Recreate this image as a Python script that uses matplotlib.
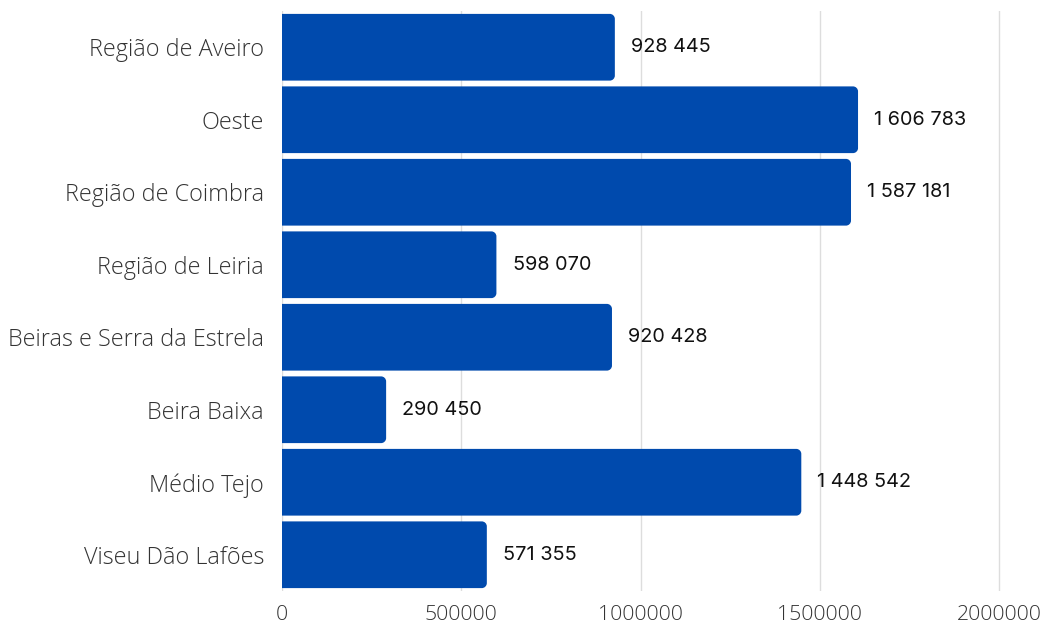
import matplotlib.pyplot as plt
from matplotlib.path import Path
from matplotlib.patches import PathPatch

# NUTS III da região Centro
regioes = ['Região de Aveiro', 'Oeste', 'Região de Coimbra', 'Região de Leiria',
           'Beiras e Serra da Estrela', 'Beira Baixa', 'Médio Tejo', 'Viseu Dão Lafões']
valores = [928445, 1606783, 1587181, 598070, 920428, 290450, 1448542, 571355]
ticks_x = [0, 500000, 1000000, 1500000, 2000000]

azul = '#004AAD'

fig = plt.figure(figsize=(10.47, 6.25), dpi=100)
ax = fig.add_axes([282 / 1047, 34 / 625, (1035 - 282) / 1047, 580 / 625])

xmax = 753 / 358.5 * 1e6
ax.set_xlim(0, xmax)
ax.set_ylim(len(regioes) - 0.5, -0.5)

altura = 0.92
rx = 5 * xmax / 753          # raio dos cantos em unidades de x (~5 px)
ry = 5 / 72.5                # idem em unidades de y


def barra(x, y0, h):
    # retângulo com os cantos da direita arredondados
    y1 = y0 + h
    k = 0.55
    verts = [(0, y0), (x - rx, y0),
             (x - rx + k * rx, y0), (x, y0 + ry - k * ry), (x, y0 + ry),
             (x, y1 - ry),
             (x, y1 - ry + k * ry), (x - rx + k * rx, y1), (x - rx, y1),
             (0, y1), (0, y0)]
    codes = [Path.MOVETO, Path.LINETO,
             Path.CURVE4, Path.CURVE4, Path.CURVE4,
             Path.LINETO,
             Path.CURVE4, Path.CURVE4, Path.CURVE4,
             Path.LINETO, Path.CLOSEPOLY]
    return PathPatch(Path(verts, codes), facecolor=azul, lw=0, zorder=2)


for i, v in enumerate(valores):
    ax.add_patch(barra(v, i - altura / 2, altura))
    rot = f'{v:,}'.replace(',', ' ')
    ax.text(v + 45000, i, rot, va='center', ha='left', fontsize=14.3,
            family='Inter', color='#111111')

ax.set_yticks(range(len(regioes)))
ax.set_yticklabels(regioes, fontsize=16.8, family='Open Sans', fontweight='light', color='#333333')
ax.set_xticks(ticks_x)
ax.set_xticklabels([str(t) for t in ticks_x], fontsize=15.3, family='Open Sans',
                   fontweight='light', color='#333333')
ax.tick_params(length=0)
ax.tick_params(axis='y', pad=13)
ax.tick_params(axis='x', pad=10)

ax.grid(axis='x', color='#dddddd', lw=1, zorder=0)
for s in ax.spines.values():
    s.set_visible(False)

fig.savefig('out.png', dpi=100, facecolor='white')
